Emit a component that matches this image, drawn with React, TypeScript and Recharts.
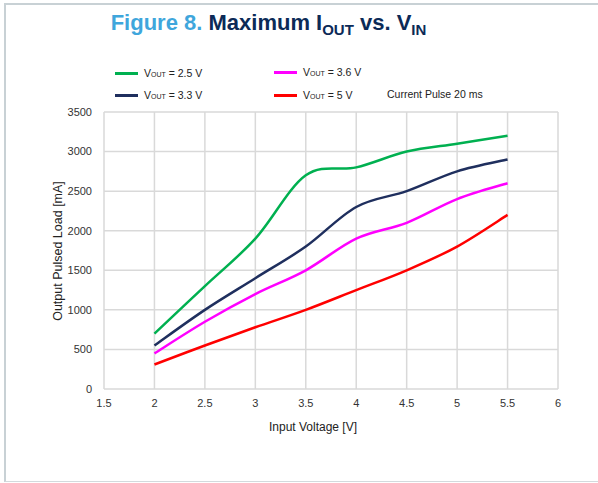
import { LineChart, Line, XAxis, YAxis, CartesianGrid } from "recharts";

const vin = [2, 2.5, 3, 3.5, 4, 4.5, 5, 5.5];
const vout25 = [700, 1300, 1900, 2700, 2800, 3000, 3100, 3200];
const vout33 = [550, 1000, 1400, 1800, 2300, 2500, 2750, 2900];
const vout36 = [450, 850, 1200, 1500, 1900, 2100, 2400, 2600];
const vout50 = [310, 550, 780, 1000, 1250, 1500, 1800, 2200];
const xTicks = [1.5, 2, 2.5, 3, 3.5, 4, 4.5, 5, 5.5, 6];
const yTicks = [0, 500, 1000, 1500, 2000, 2500, 3000, 3500];

const data = vin.map((v, i) => ({
  vin: v,
  v25: vout25[i],
  v33: vout33[i],
  v36: vout36[i],
  v50: vout50[i],
}));

const SERIES = [
  { key: "v25", label: "2.5 V", color: "#00b050" },
  { key: "v33", label: "3.3 V", color: "#1f2f5e" },
  { key: "v36", label: "3.6 V", color: "#ff00ff" },
  { key: "v50", label: "5 V", color: "#ff0000" },
];

// excel-like smoothed line (catmull-rom)
function smooth(context: any) {
  let pts: [number, number][] = [];
  return {
    areaStart() {},
    areaEnd() {},
    lineStart() { pts = []; },
    point(x: number, y: number) { pts.push([+x, +y]); },
    lineEnd() {
      if (!pts.length) return;
      context.moveTo(pts[0][0], pts[0][1]);
      for (let i = 0; i < pts.length - 1; i++) {
        const p0 = pts[Math.max(i - 1, 0)];
        const p1 = pts[i];
        const p2 = pts[i + 1];
        const p3 = pts[Math.min(i + 2, pts.length - 1)];
        context.bezierCurveTo(
          p1[0] + (p2[0] - p0[0]) / 6, p1[1] + (p2[1] - p0[1]) / 6,
          p2[0] - (p3[0] - p1[0]) / 6, p2[1] - (p3[1] - p1[1]) / 6,
          p2[0], p2[1],
        );
      }
    },
  };
}

const font = "'Liberation Sans', Arial, sans-serif";

function Vout({ label }: { label: string }) {
  return (
    <span>
      V<span style={{ fontSize: 7 }}>OUT</span> = {label}
    </span>
  );
}

function LegendItem({ s, x, y }: { s: typeof SERIES[number]; x: number; y: number }) {
  return (
    <div style={{ position: "absolute", left: x, top: y - 8, display: "flex", alignItems: "center", height: 16 }}>
      <div style={{ width: 23, height: 3, background: s.color, marginRight: 6 }} />
      <span style={{ fontSize: 10.5, color: "#222" }}><Vout label={s.label} /></span>
    </div>
  );
}

export default function App() {
  return (
    <div style={{ position: "absolute", left: 0, top: 0, width: 598, height: 483, overflow: "hidden", background: "#fff", fontFamily: font }}>
      <div style={{ position: "absolute", left: 4, top: 3, width: 640, height: 476, borderLeft: "2px solid #c8d1d5", borderTop: "2px solid #c8d1d5", borderBottom: "1px solid #d3dadd" }} />

      <div style={{ position: "absolute", left: 0, width: 537, top: 10, textAlign: "center", fontSize: 22, fontWeight: "bold", whiteSpace: "nowrap" }}>
        <span style={{ color: "#3fa6dc" }}>Figure 8. </span>
        <span style={{ color: "#0c2a57" }}>
          Maximum I<sub style={{ fontSize: 15, verticalAlign: -5 }}>OUT</sub> vs. V<sub style={{ fontSize: 15, verticalAlign: -5 }}>IN</sub>
        </span>
      </div>

      <LegendItem s={SERIES[0]} x={115} y={73} />
      <LegendItem s={SERIES[2]} x={274} y={72} />
      <LegendItem s={SERIES[1]} x={115} y={95} />
      <LegendItem s={SERIES[3]} x={274} y={95} />
      <div style={{ position: "absolute", left: 387, top: 88, fontSize: 10.5, color: "#222" }}>Current Pulse 20 ms</div>

      <LineChart
        width={598}
        height={483}
        data={data}
        margin={{ top: 112, right: 40, bottom: 54, left: 0 }}
        style={{ position: "absolute", left: 0, top: 0 }}
      >
        <CartesianGrid stroke="#d9d9d9" strokeWidth={1.5} />
        <XAxis
          dataKey="vin"
          type="number"
          domain={[1.5, 6]}
          ticks={xTicks}
          height={40}
          axisLine={false}
          tickLine={false}
          tickSize={0}
          tickMargin={10}
          tick={{ fontSize: 11, fill: "#333", fontFamily: font }}
          label={{
            content: (p: any) => (
              <text x={p.viewBox.x + p.viewBox.width / 2 - 18} y={p.viewBox.y + 42} textAnchor="middle" fontSize={12} fill="#222" fontFamily={font}>
                Input Voltage [V]
              </text>
            ),
          }}
        />
        <YAxis
          type="number"
          domain={[0, 3500]}
          ticks={yTicks}
          width={104}
          axisLine={false}
          tickLine={false}
          tickSize={0}
          tickMargin={12}
          tick={{ fontSize: 11, fill: "#333", fontFamily: font }}
          label={{
            content: () => (
              <text x={62} y={251} transform="rotate(-90 62 251)" textAnchor="middle" fontSize={12.5} fill="#222" fontFamily={font}>
                Output Pulsed Load [mA]
              </text>
            ),
          }}
        />
        {SERIES.map((s) => (
          <Line
            key={s.key}
            dataKey={s.key}
            type={smooth as any}
            stroke={s.color}
            strokeWidth={2.5}
            dot={false}
            isAnimationActive={false}
          />
        ))}
      </LineChart>
    </div>
  );
}
